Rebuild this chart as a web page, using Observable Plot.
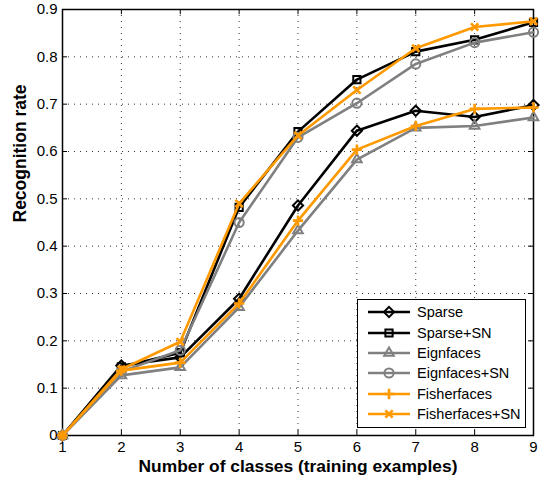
<!DOCTYPE html>
<html><head><meta charset="utf-8">
<script src="https://cdn.jsdelivr.net/npm/d3@7"></script>
<script src="https://cdn.jsdelivr.net/npm/@observablehq/plot@0.6"></script>
<style>
body{margin:0;background:#fff;font-family:"Liberation Sans",Arial,sans-serif}
#wrap{position:relative;width:542px;height:485px}
#legend{position:absolute;left:357px;top:299px;width:169px;height:129px;border:1.3px solid #000;background:#fff;box-sizing:border-box;padding-top:2px}
.row{display:flex;align-items:center;height:20.4px;font-size:14.5px;color:#000}
.row svg{margin-left:9px;margin-right:6px}
</style></head>
<body><div id="wrap"></div>
<script>
const classes = [1,2,3,4,5,6,7,8,9];
const sparse   = [0,0.148,0.165,0.289,0.486,0.644,0.686,0.673,0.698];
const sparseSN = [0,0.145,0.175,0.482,0.642,0.752,0.811,0.836,0.873];
const eign     = [0,0.127,0.144,0.271,0.433,0.583,0.650,0.654,0.672];
const eignSN   = [0,0.135,0.180,0.450,0.630,0.702,0.785,0.830,0.852];
const fisher   = [0,0.137,0.154,0.279,0.454,0.604,0.654,0.690,0.693];
const fisherSN = [0,0.140,0.198,0.490,0.634,0.730,0.818,0.863,0.875];
const seriesNames = ["Sparse","Sparse+SN","Eignfaces","Eignfaces+SN","Fisherfaces","Fisherfaces+SN"];
const seriesVals = [sparse,sparseSN,eign,eignSN,fisher,fisherSN];
const colors = ["#000000","#000000","#808080","#808080","#ff9900","#ff9900"];
const symbols = ["diamond2","square2","triangle2","circle","plus","times"];
const symbolR = [4.6,4.6,4.6,4.6,3.4,3.4];
const yTicks = [0,0.1,0.2,0.3,0.4,0.5,0.6,0.7,0.8,0.9];
const xLabel = "Number of classes (training examples)";
const yLabel = "Recognition rate";

const rows = [];
seriesNames.forEach((s,i)=>classes.forEach((c,j)=>rows.push({series:s,x:c,y:seriesVals[i][j]})));

const lineMarks = [];
seriesNames.forEach((s,i)=>{
  const d = rows.filter(r=>r.series===s);
  lineMarks.push(Plot.line(d,{x:"x",y:"y",stroke:colors[i],strokeWidth:2.6}));
  lineMarks.push(Plot.dot(d,{x:"x",y:"y",stroke:colors[i],symbol:()=>symbols[i],r:symbolR[i],strokeWidth:i>=4?2.6:2,fill:"none"}));
});

const chart = Plot.plot({
  width:542, height:485,
  marginLeft:62, marginRight:9, marginTop:9, marginBottom:50,
  style:{fontFamily:"Liberation Sans, Arial, sans-serif",fontSize:"15px",color:"#000",background:"#fff"},
  x:{domain:[1,9]},
  y:{domain:[0,0.9]},
  marks:[
    Plot.gridX(classes,{stroke:"#333",strokeOpacity:1,strokeDasharray:"1,5",strokeWidth:1}),
    Plot.gridY(yTicks,{stroke:"#333",strokeOpacity:1,strokeDasharray:"1,5",strokeWidth:1}),
    Plot.ruleX(classes,{x:d=>d,y1:0,y2:0.011,stroke:"#000"}),
    Plot.ruleX(classes,{x:d=>d,y1:0.9,y2:0.889,stroke:"#000"}),
    Plot.ruleY(yTicks,{y:d=>d,x1:1,x2:1.085,stroke:"#000"}),
    Plot.ruleY(yTicks,{y:d=>d,x1:9,x2:8.915,stroke:"#000"}),
    Plot.axisX(classes,{tickSize:0,tickPadding:6,label:null,fontSize:15}),
    Plot.axisY(yTicks,{tickSize:0,tickPadding:5,label:null,fontSize:15,tickFormat:d=>d===0?"0":d3.format(".1f")(d)}),
    Plot.frame({stroke:"#000",strokeWidth:1.5}),
    ...lineMarks,
    Plot.text([xLabel],{frameAnchor:"bottom",dy:31,lineAnchor:"middle",fontWeight:"bold",fontSize:17.4}),
    Plot.text([yLabel],{frameAnchor:"left",dx:-42,rotate:-90,lineAnchor:"middle",fontWeight:"bold",fontSize:17.5})
  ]
});
const wrap = document.getElementById("wrap");
wrap.appendChild(chart);

const symMap = {diamond2:d3.symbolDiamond2,square2:d3.symbolSquare2,triangle2:d3.symbolTriangle2,circle:d3.symbolCircle,plus:d3.symbolPlus,times:d3.symbolTimes};
const legend = document.createElement("div");
legend.id = "legend";
seriesNames.forEach((s,i)=>{
  const row = document.createElement("div");
  row.className = "row";
  const sv = d3.create("svg").attr("width",44).attr("height",20);
  sv.append("line").attr("x1",1).attr("x2",43).attr("y1",10).attr("y2",10).attr("stroke",colors[i]).attr("stroke-width",2.6);
  sv.append("path").attr("transform","translate(22,10)").attr("d",d3.symbol(symMap[symbols[i]],Math.PI*symbolR[i]*symbolR[i])()).attr("fill","none").attr("stroke",colors[i]).attr("stroke-width",i>=4?2.6:2);
  row.appendChild(sv.node());
  const t = document.createElement("span");
  t.textContent = s;
  row.appendChild(t);
  legend.appendChild(row);
});
wrap.appendChild(legend);
</script>
</body></html>
